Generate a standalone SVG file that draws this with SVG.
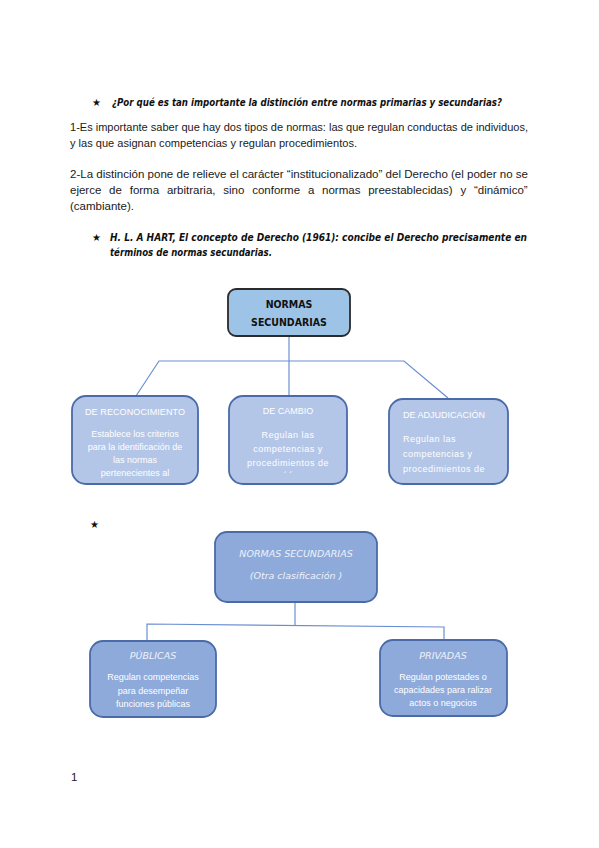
<svg xmlns="http://www.w3.org/2000/svg" width="599" height="848" viewBox="0 0 599 848">
<style>
.body{font-family:"Liberation Sans",Arial,sans-serif;font-size:11.5px;fill:#1a1a1a}
.head{font-family:"DejaVu Sans","Liberation Sans",sans-serif;font-size:10.5px;font-weight:bold;font-style:italic;fill:#111}
.star{font-family:"DejaVu Sans",sans-serif;font-size:10px;fill:#111}
.conn{stroke:#6a8fd0;stroke-width:1.2;fill:none}
.lb{fill:#b4c6e7;stroke:#4a6aa8;stroke-width:1.8}
.db{fill:#8eaadb;stroke:#4a6aa8;stroke-width:1.8}
.wt{font-family:"Liberation Sans",Arial,sans-serif;font-size:9px;fill:#ffffff;text-anchor:middle}
.wl{font-family:"Liberation Sans",Arial,sans-serif;font-size:9px;fill:#ffffff}
.sc{font-family:"DejaVu Sans",sans-serif;font-size:9.5px;font-style:italic;fill:#eef2fa;text-anchor:middle}
</style>
<rect width="599" height="848" fill="#ffffff"/>

<text class="star" x="92" y="106">★</text>
<text class="head" x="112" y="106" textLength="390" lengthAdjust="spacingAndGlyphs">¿Por qué es tan importante la distinción entre normas primarias y secundarias?</text>

<text class="body" x="70" y="131" textLength="458" lengthAdjust="spacingAndGlyphs">1-Es importante saber que hay dos tipos de normas: las que regulan conductas de individuos,</text>
<text class="body" x="70" y="147" textLength="287" lengthAdjust="spacingAndGlyphs">y las que asignan competencias y regulan procedimientos.</text>
<text class="body" x="70" y="178" textLength="458" lengthAdjust="spacingAndGlyphs">2-La distinción pone de relieve el carácter “institucionalizado” del Derecho (el poder no se</text>
<text class="body" x="70" y="194" word-spacing="4.6">ejerce de forma arbitraria, sino conforme a normas preestablecidas) y “dinámico”</text>
<text class="body" x="70" y="210">(cambiante).</text>

<text class="star" x="92" y="241">★</text>
<text class="head" x="110" y="241" textLength="417" lengthAdjust="spacingAndGlyphs">H. L. A HART, El concepto de Derecho (1961): concibe el Derecho precisamente en</text>
<text class="head" x="110" y="256" textLength="162" lengthAdjust="spacingAndGlyphs">términos de normas secundarias.</text>

<g id="connectors">
<polyline class="conn" points="289,336 289,396"/>
<polyline class="conn" points="136,396 159,361 404,361 448,398"/>
<polyline class="conn" points="295,602 295,625"/>
<polyline class="conn" points="147,641 147,624 444,627 444,641"/>
</g>

<g id="node-normas-secundarias">
<rect x="228" y="289" width="122" height="47" rx="8" fill="#9dc3e6" stroke="#2b2b2b" stroke-width="1.8"/>
<text x="289" y="308" text-anchor="middle" font-family="DejaVu Sans Condensed,DejaVu Sans,sans-serif" font-size="10.5" font-weight="bold" fill="#111">NORMAS</text>
<text x="289" y="326" text-anchor="middle" font-family="DejaVu Sans Condensed,DejaVu Sans,sans-serif" font-size="10.5" font-weight="bold" fill="#111">SECUNDARIAS</text>
</g>

<g id="node-reconocimiento">
<rect class="lb" x="72" y="396" width="126" height="88" rx="14"/>
<text class="wt" x="135" y="415" textLength="100" lengthAdjust="spacing">DE RECONOCIMIENTO</text>
<text class="wt" x="135" y="437">Establece los criterios</text>
<text class="wt" x="135" y="450">para la identificación de</text>
<text class="wt" x="135" y="463">las normas</text>
<text class="wt" x="135" y="476">pertenecientes al</text>
</g>

<g id="node-cambio">
<rect class="lb" x="229" y="396" width="118" height="88" rx="14"/>
<text class="wt" x="288" y="414">DE CAMBIO</text>
<text class="wt" x="288" y="438" letter-spacing="0.5">Regulan las</text>
<text class="wt" x="288" y="452" letter-spacing="0.5">competencias y</text>
<text class="wt" x="288" y="466" letter-spacing="0.5">procedimientos de</text>
<text class="wt" x="288" y="478">´ ´</text>
</g>

<g id="node-adjudicacion">
<rect class="lb" x="389" y="399" width="119" height="85" rx="14"/>
<text class="wl" x="403" y="418">DE ADJUDICACIÓN</text>
<text class="wl" x="403" y="442" letter-spacing="0.5">Regulan las</text>
<text class="wl" x="403" y="457" letter-spacing="0.5">competencias y</text>
<text class="wl" x="403" y="472" letter-spacing="0.5">procedimientos de</text>
</g>

<text class="star" x="90" y="528">★</text>

<g id="node-otra-clasificacion">
<rect class="db" x="215" y="532" width="162" height="70" rx="12"/>
<text class="sc" x="296" y="557">NORMAS SECUNDARIAS</text>
<text class="sc" x="296" y="579">(Otra clasificación )</text>
</g>

<g id="node-publicas">
<rect class="db" x="90" y="641" width="126" height="76" rx="13"/>
<text class="sc" x="153" y="659">PÚBLICAS</text>
<text class="wt" x="153" y="680">Regulan competencias</text>
<text class="wt" x="153" y="694">para desempeñar</text>
<text class="wt" x="153" y="707">funciones  públicas</text>
</g>

<g id="node-privadas">
<rect class="db" x="380" y="640" width="127" height="76" rx="13"/>
<text class="sc" x="443" y="659">PRIVADAS</text>
<text class="wt" x="443" y="680">Regulan potestades o</text>
<text class="wt" x="443" y="693">capacidades para ralizar</text>
<text class="wt" x="443" y="706">actos o negocios</text>
</g>

<text class="body" x="71" y="781" font-size="10.5">1</text>
</svg>
